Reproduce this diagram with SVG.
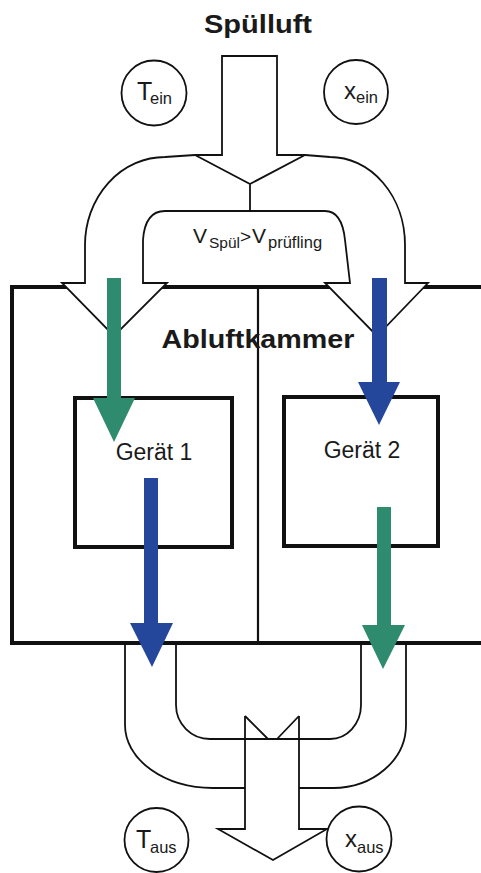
<svg xmlns="http://www.w3.org/2000/svg" width="481" height="873" viewBox="0 0 481 873">
<style>
.ln{fill:none;stroke:#111;stroke-width:1.8;stroke-linejoin:miter}
.wf{fill:#fff;stroke:#111;stroke-width:1.8;stroke-linejoin:miter}
.thick{fill:none;stroke:#111;stroke-width:4}
.box{fill:#fff;stroke:#111;stroke-width:4}
.grn{fill:#2f8b6d}
.blu{fill:#24479c}
.t{font-family:"Liberation Sans",Arial,sans-serif;fill:#1a1a1a}
.b{font-weight:bold}
</style>
<rect width="481" height="873" fill="#fff"/>

<g id="title"><text class="t b" x="258" y="33" font-size="25" text-anchor="middle" textLength="108" lengthAdjust="spacingAndGlyphs">Spülluft</text></g>

<g id="chamber">
<rect x="12" y="287" width="480" height="356" class="thick"/>
<line x1="258" y1="287" x2="258" y2="643" stroke="#111" stroke-width="2.2"/>
<text class="t b" x="258" y="348" font-size="26" text-anchor="middle" textLength="193" lengthAdjust="spacingAndGlyphs">Abluftkammer</text>
</g>

<g id="inlet">
<path class="wf" d="M222,56 L277,56 L277,155 L305,155 L330,157 A75,88 0 0 1 405,245 L405,283 L428,283 L377,336 L325,283 L350,283 L345,240 Q342,211 325,211 L165,211 Q145,211 143,240 L143,283 L167,283 L114,336 L62,283 L85,283 L85,245 A80,88 0 0 1 165,157 L195,155 L222,155 Z"/>
<path class="ln" d="M195,155 L250,184 L305,155 M250,184 L250,211"/>
<text class="t" x="193" y="243" font-size="21">V</text>
<text class="t" x="209" y="248" font-size="15.5">Spül</text>
<text class="t" x="240" y="243" font-size="19">&gt;</text>
<text class="t" x="252" y="243" font-size="21">V</text>
<text class="t" x="268" y="248" font-size="16.5">prüfling</text>
</g>

<g id="geraet1">
<rect x="75" y="398" width="157" height="149" class="box"/>
<text class="t" x="154" y="460" font-size="23" text-anchor="middle">Gerät 1</text>
</g>
<g id="geraet2">
<rect x="284" y="397" width="154" height="149" class="box"/>
<text class="t" x="362" y="458" font-size="23" text-anchor="middle">Gerät 2</text>
</g>

<g id="outlet">
<path class="ln" d="M125,643 L125,725 A88,63 0 0 0 213,788 L245,788"/>
<path class="ln" d="M406,643 L406,725 A73,63 0 0 1 333,788 L299,788"/>
<path class="ln" d="M176,643 L176,705 A34,34 0 0 0 210,739 L330,739 A31,34 0 0 0 361,705 L361,643"/>
<path class="ln" d="M245,716 L245,829 L218,829 L273,860 L327,829 L299,829 L299,716"/>
<path class="ln" d="M245,716 L268,739 M277,739 L299,716"/>
</g>

<g id="flows">
<polygon class="grn" points="107,278 121,278 121,398 135,398 114,442 93,398 107,398"/>
<polygon class="blu" points="372,278 387,278 387,382 400,382 379,425 358,382 372,382"/>
<polygon class="blu" points="144,478 158,478 158,623 173,623 152,667 130,623 144,623"/>
<polygon class="grn" points="377,507 391,507 391,625 405,625 383,669 362,625 377,625"/>
</g>

<g id="T_ein">
<circle cx="154" cy="93" r="32.5" class="wf"/>
<text class="t" x="137" y="100" font-size="25">T</text>
<text class="t" x="150" y="104" font-size="16.5">ein</text>
</g>
<g id="x_ein">
<circle cx="356" cy="92" r="32" class="wf"/>
<text class="t" x="344" y="99" font-size="24">x</text>
<text class="t" x="356" y="103" font-size="16.5">ein</text>
</g>
<g id="T_aus">
<circle cx="156.5" cy="840" r="32" class="wf"/>
<text class="t" x="136" y="848" font-size="25">T</text>
<text class="t" x="150" y="853" font-size="16.5">aus</text>
</g>
<g id="x_aus">
<circle cx="359" cy="839" r="32.5" class="wf"/>
<text class="t" x="345" y="847" font-size="24">x</text>
<text class="t" x="357" y="853" font-size="16.5">aus</text>
</g>
</svg>
